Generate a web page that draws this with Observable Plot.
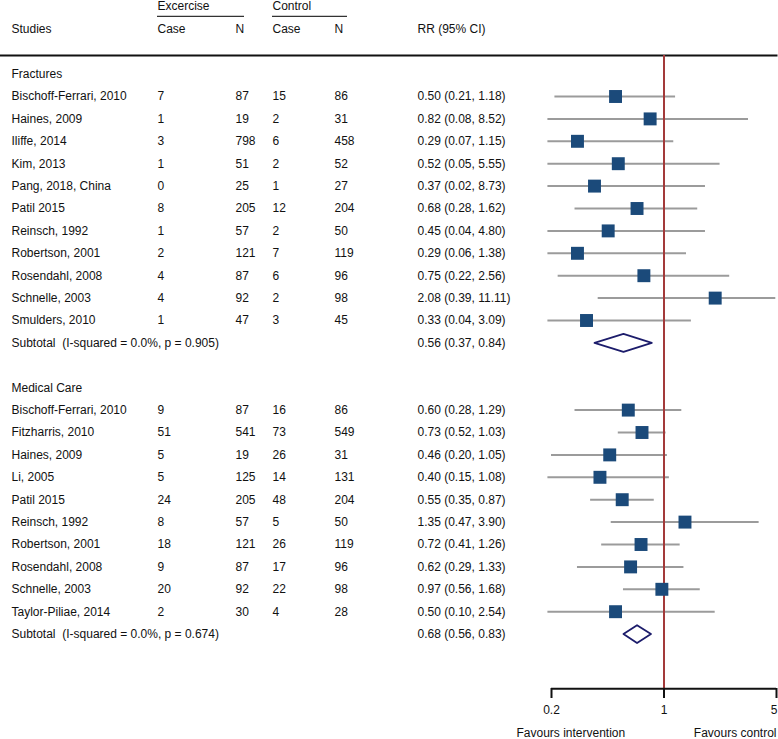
<!DOCTYPE html>
<html>
<head>
<meta charset="utf-8">
<script src="https://cdn.jsdelivr.net/npm/d3@7"></script>
<script src="https://cdn.jsdelivr.net/npm/@observablehq/plot@0.6"></script>
<style>
  body { margin: 0; background: #fff; }
  #chart { width: 778px; height: 739px; }
</style>
</head>
<body>
<div id="chart"></div>
<script>
// ---------- Data ----------
const groupHeaders = ["Excercise", "Control"];
const columnHeaders = ["Studies", "Case", "N", "Case", "N", "RR (95% CI)"];
const sections = ["Fractures", "Medical Care"];

const fracStudies = ["Bischoff-Ferrari, 2010", "Haines, 2009", "Iliffe, 2014", "Kim, 2013", "Pang, 2018, China",
  "Patil 2015", "Reinsch, 1992", "Robertson, 2001", "Rosendahl, 2008", "Schnelle, 2003", "Smulders, 2010"];
const fracExCase = [7, 1, 3, 1, 0, 8, 1, 2, 4, 4, 1];
const fracExN = [87, 19, 798, 51, 25, 205, 57, 121, 87, 92, 47];
const fracCtCase = [15, 2, 6, 2, 1, 12, 2, 7, 6, 2, 3];
const fracCtN = [86, 31, 458, 52, 27, 204, 50, 119, 96, 98, 45];
const fracCI = ["0.50 (0.21, 1.18)", "0.82 (0.08, 8.52)", "0.29 (0.07, 1.15)", "0.52 (0.05, 5.55)", "0.37 (0.02, 8.73)",
  "0.68 (0.28, 1.62)", "0.45 (0.04, 4.80)", "0.29 (0.06, 1.38)", "0.75 (0.22, 2.56)", "2.08 (0.39, 11.11)", "0.33 (0.04, 3.09)"];
// values as drawn in the figure
const fracRR = [0.50, 0.82, 0.29, 0.52, 0.37, 0.68, 0.45, 0.29, 0.75, 2.08, 0.33];
const fracLo = [0.21, 0.19, 0.19, 0.19, 0.19, 0.28, 0.19, 0.19, 0.22, 0.39, 0.19];
const fracHi = [1.18, 3.35, 1.15, 2.23, 1.81, 1.62, 1.81, 1.38, 2.56, 4.95, 1.48];
const fracSubLabel = "Subtotal  (I-squared = 0.0%, p = 0.905)";
const fracSubCI = "0.56 (0.37, 0.84)";
const fracSub = [0.56, 0.37, 0.84];

const medStudies = ["Bischoff-Ferrari, 2010", "Fitzharris, 2010", "Haines, 2009", "Li, 2005", "Patil 2015",
  "Reinsch, 1992", "Robertson, 2001", "Rosendahl, 2008", "Schnelle, 2003", "Taylor-Piliae, 2014"];
const medExCase = [9, 51, 5, 5, 24, 8, 18, 9, 20, 2];
const medExN = [87, 541, 19, 125, 205, 57, 121, 87, 92, 30];
const medCtCase = [16, 73, 26, 14, 48, 5, 26, 17, 22, 4];
const medCtN = [86, 549, 31, 131, 204, 50, 119, 96, 98, 28];
const medCI = ["0.60 (0.28, 1.29)", "0.73 (0.52, 1.03)", "0.46 (0.20, 1.05)", "0.40 (0.15, 1.08)", "0.55 (0.35, 0.87)",
  "1.35 (0.47, 3.90)", "0.72 (0.41, 1.26)", "0.62 (0.29, 1.33)", "0.97 (0.56, 1.68)", "0.50 (0.10, 2.54)"];
const medRR = [0.60, 0.73, 0.46, 0.40, 0.55, 1.35, 0.72, 0.62, 0.97, 0.50];
const medLo = [0.28, 0.52, 0.20, 0.19, 0.35, 0.47, 0.41, 0.29, 0.56, 0.19];
const medHi = [1.29, 1.03, 1.05, 1.08, 0.87, 3.90, 1.26, 1.33, 1.68, 2.08];
const medSubLabel = "Subtotal  (I-squared = 0.0%, p = 0.674)";
const medSubCI = "0.68 (0.56, 0.83)";
const medSub = [0.68, 0.56, 0.83];

const axisTicks = [0.2, 1, 5];
const axisLabels = ["0.2", "1", "5"];
const favours = ["Favours intervention", "Favours control"];

// ---------- Table building ----------
const rows = [];
const studies = [];
const subtotals = [];
rows.push({row: -2, study: columnHeaders[0], exCase: columnHeaders[1], exN: columnHeaders[2],
  ctCase: columnHeaders[3], ctN: columnHeaders[4], ci: columnHeaders[5]});

function addSection(start, title, names, ec, en, cc, cn, ci, rr, lo, hi, subLabel, subCI, sub) {
  rows.push({row: start, study: title});
  names.forEach((s, i) => {
    const r = {row: start + i + 1, study: s, exCase: ec[i], exN: en[i], ctCase: cc[i], ctN: cn[i], ci: ci[i]};
    rows.push(r);
    studies.push({row: r.row, rr: rr[i], lo: lo[i], hi: hi[i]});
  });
  const subRow = start + names.length + 1;
  rows.push({row: subRow, study: subLabel, ci: subCI});
  subtotals.push({row: subRow, rr: sub[0], lo: sub[1], hi: sub[2]});
}
addSection(0, sections[0], fracStudies, fracExCase, fracExN, fracCtCase, fracCtN, fracCI, fracRR, fracLo, fracHi, fracSubLabel, fracSubCI, fracSub);
addSection(14, sections[1], medStudies, medExCase, medExN, medCtCase, medCtN, medCI, medRR, medLo, medHi, medSubLabel, medSubCI, medSub);

// diamond outlines for subtotals
const diamonds = [];
subtotals.forEach((d, k) => {
  const h = 0.4;
  [[d.lo, d.row], [d.rr, d.row - h], [d.hi, d.row], [d.rr, d.row + h], [d.lo, d.row]]
    .forEach(([x, y]) => diamonds.push({k, x, y}));
});

const ticks = axisTicks.map((v, i) => ({v, label: axisLabels[i]}));
const lastRow = subtotals[subtotals.length - 1].row;
const txt = "#111";
const col = (field, dx) => Plot.text(rows.filter(r => r[field] !== undefined), {
  y: "row", text: field, frameAnchor: "left", dx, textAnchor: "start", fill: txt
});

const chart = Plot.plot({
  width: 778,
  height: 739,
  marginTop: 55,
  marginBottom: 51,
  marginLeft: 0,
  marginRight: 2,
  style: {fontFamily: "'Liberation Sans', Arial, Helvetica, sans-serif", fontSize: "12px", background: "#fff", color: txt},
  x: {type: "log", domain: [0.2, 5], range: [551, 776], axis: null},
  y: {domain: [-3, 25], range: [6.4, 633.6], axis: null},
  marks: [
    // header
    Plot.text([groupHeaders[0]], {y: () => -3, text: d => d, frameAnchor: "left", dx: 157, dy: -1, textAnchor: "start", fill: txt}),
    Plot.text([groupHeaders[1]], {y: () => -3, text: d => d, frameAnchor: "left", dx: 272, dy: -1, textAnchor: "start", fill: txt}),
    Plot.ruleY([-3], {dy: 9.5, insetLeft: 157, insetRight: 776 - 244, stroke: "#333", strokeWidth: 1.3}),
    Plot.ruleY([-3], {dy: 9.5, insetLeft: 272, insetRight: 776 - 347, stroke: "#333", strokeWidth: 1.3}),
    col("study", 11),
    col("exCase", 157),
    col("exN", 235),
    col("ctCase", 272),
    col("ctN", 334),
    col("ci", 417),
    Plot.frame({anchor: "top", stroke: "#111", strokeWidth: 2}),
    // CI lines
    Plot.ruleY(studies, {y: "row", x1: "lo", x2: "hi", stroke: "#9b9b9b", strokeWidth: 2}),
    // null line
    Plot.ruleX([1], {stroke: "#a33a3a", strokeWidth: 2}),
    // study markers
    Plot.dot(studies, {x: "rr", y: "row", symbol: "square", r: 7.3, fill: "#1b4a7a", stroke: "none"}),
    // subtotal diamonds
    Plot.line(diamonds, {x: "x", y: "y", z: "k", stroke: "#1c1c6b", strokeWidth: 1.8, fill: "none", curve: "linear"}),
    // axis line, ticks and labels
    Plot.ruleY([lastRow], {x1: axisTicks[0], x2: axisTicks[axisTicks.length - 1], dy: 54.7, stroke: "#111", strokeWidth: 2}),
    Plot.ruleX(ticks, {x: "v", insetTop: 633, insetBottom: -10, stroke: "#111", strokeWidth: 2}),
    Plot.text(ticks.slice(0, -1), {x: "v", text: "label", frameAnchor: "bottom", lineAnchor: "middle", dy: 22, fill: txt}),
    Plot.text(ticks.slice(-1), {x: "v", text: "label", frameAnchor: "bottom", lineAnchor: "middle", dy: 22, textAnchor: "end", dx: 1, fill: txt}),
    Plot.text([favours[0]], {x: axisTicks[0], frameAnchor: "bottom", lineAnchor: "middle", dy: 44.5, dx: -35, text: d => d, textAnchor: "start", fill: txt}),
    Plot.text([favours[1]], {x: axisTicks[2], frameAnchor: "bottom", lineAnchor: "middle", dy: 44.5, text: d => d, textAnchor: "end", fill: txt})
  ]
});
document.getElementById("chart").appendChild(chart);
</script>
</body>
</html>
